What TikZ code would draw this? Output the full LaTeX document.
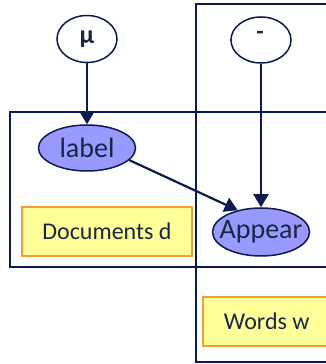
\documentclass[tikz,border=0pt]{standalone}
\usepackage{fontspec}
\setmainfont{Carlito}
\usetikzlibrary{shapes.geometric,arrows.meta}
\definecolor{navy}{HTML}{0C1A4E}
\definecolor{txt}{HTML}{1B2641}
\definecolor{nodefill}{HTML}{9999FF}
\definecolor{boxfill}{HTML}{FFFF99}
\definecolor{boxedge}{HTML}{F79A3A}
\tikzset{
  plate/.style={draw=navy,line width=1.5pt},
  varnode/.style={ellipse,draw=navy,line width=1.5pt,fill=white,text=txt,inner sep=0pt},
  obsnode/.style={ellipse,draw=navy,line width=1.5pt,fill=nodefill,text=txt,inner sep=0pt,font=\fontsize{28}{30}\selectfont},
  nodetext/.style={text=txt,inner sep=0pt,font=\fontsize{28}{30}\selectfont},
  platelabel/.style={rectangle,draw=boxedge,line width=1.5pt,fill=boxfill,text=txt,inner sep=0pt,font=\fontsize{24}{26}\selectfont},
  arr/.style={draw=navy,line width=2.2pt,-{Triangle[length=13pt,width=15pt]}}
}
\begin{document}
\begin{tikzpicture}[x=1pt,y=1pt]
\useasboundingbox (0,0) rectangle (326,364);
\begin{scope}
\clip (0,0) rectangle (326,364);
\draw[plate] (10,97) rectangle (360,252);
\draw[plate] (196,2) rectangle (360,360);
\node[platelabel,minimum width=170pt,minimum height=49pt] (docs) at (107,132.5) {Documents d};
\node[platelabel,minimum width=140pt,minimum height=49pt,anchor=west] (words) at (202,42.5) {\hspace*{-12pt}Words w};
\end{scope}
\node[varnode,minimum width=60pt,minimum height=47pt,font=\bfseries\fontsize{26}{28}\selectfont] (mu) at (87,325) {μ};
\node[varnode,minimum width=60pt,minimum height=46pt] (bar) at (261,324) {};
\node[font=\bfseries\fontsize{24}{26}\selectfont,text=txt,inner sep=0pt] (bartext) at (260,329) {-};
\node[obsnode,minimum width=97pt,minimum height=46pt] (label) at (87,216) {};
\node[nodetext] (labeltext) at (87,216) {label};
\node[obsnode,minimum width=97pt,minimum height=48pt] (appear) at (261,132) {};
\node[nodetext] (appeartext) at (261,132) {Appear};
\draw[arr] (mu) -- (label);
\draw[arr] (bar) -- (appear);
\draw[arr] (label.-16) -- (appear.137);
\end{tikzpicture}
\end{document}
